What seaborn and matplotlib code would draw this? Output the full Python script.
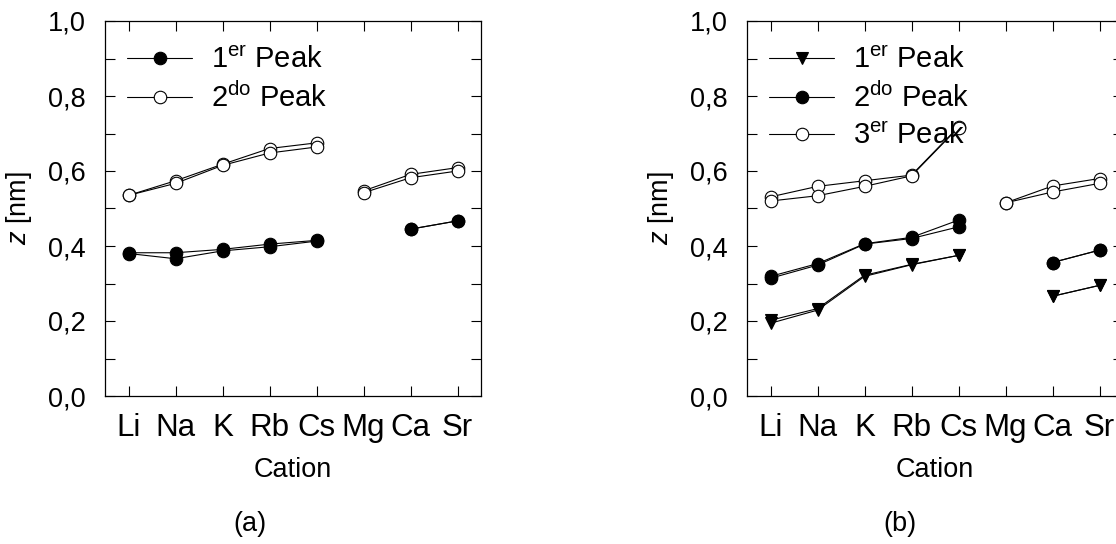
import matplotlib
matplotlib.use("Agg")
import matplotlib.pyplot as plt
import seaborn as sns
import pandas as pd
import numpy as np
from matplotlib.ticker import MultipleLocator

sns.set_style("ticks")
plt.rcParams['font.family'] = ['Liberation Sans', 'DejaVu Sans']
plt.rcParams['mathtext.fontset'] = 'custom'
plt.rcParams['mathtext.rm'] = 'Liberation Sans'
plt.rcParams['mathtext.it'] = 'Liberation Sans:italic'
plt.rcParams['mathtext.bf'] = 'Liberation Sans:bold'
for k in ('text.color', 'axes.labelcolor', 'xtick.color', 'ytick.color', 'axes.edgecolor'):
    plt.rcParams[k] = 'black'

cations = ["Li", "Na", "K", "Rb", "Cs", "Mg", "Ca", "Sr"]
alkali = ["Li", "Na", "K", "Rb", "Cs"]
earth = ["Mg", "Ca", "Sr"]

# Panel (a): two data sets per peak (None = no value)
a_peak1_s1 = [0.382, 0.382, 0.391, 0.405, 0.415, None, 0.445, 0.467]
a_peak1_s2 = [0.380, 0.366, 0.387, 0.398, 0.413, None, 0.445, 0.467]
a_peak2_s1 = [0.535, 0.574, 0.618, 0.660, 0.675, 0.547, 0.591, 0.609]
a_peak2_s2 = [0.535, 0.567, 0.615, 0.648, 0.664, 0.542, 0.582, 0.600]

# Panel (b)
b_peak1_s1 = [0.202, 0.233, 0.322, 0.351, 0.375, None, 0.266, 0.295]
b_peak1_s2 = [0.194, 0.229, 0.319, 0.350, 0.375, None, 0.266, 0.295]
b_peak2_s1 = [0.319, 0.353, 0.406, 0.423, 0.469, None, 0.356, 0.389]
b_peak2_s2 = [0.314, 0.349, 0.405, 0.420, 0.451, None, 0.356, 0.389]
b_peak3_s1 = [0.531, 0.559, 0.574, 0.589, 0.718, 0.515, 0.560, 0.580]
b_peak3_s2 = [0.520, 0.534, 0.559, 0.587, 0.716, 0.515, 0.544, 0.567]

legend_a = ["1$^{\\mathrm{er}}$ Peak", "2$^{\\mathrm{do}}$ Peak"]
legend_b = ["1$^{\\mathrm{er}}$ Peak", "2$^{\\mathrm{do}}$ Peak", "3$^{\\mathrm{er}}$ Peak"]
yticklabels = ["0,0", "0,2", "0,4", "0,6", "0,8", "1,0"]

W, H = 1116, 544
fig = plt.figure(figsize=(W / 100, H / 100), dpi=100)
axw = 376 / W
axh = 375 / H
axb = (H - 396) / H
ax_a = fig.add_axes([105 / W, axb, axw, axh])
ax_b = fig.add_axes([747 / W, axb, axw, axh])

styles = {
    "filled": dict(marker="o", markerfacecolor="black", markeredgecolor="black"),
    "open": dict(marker="o", markerfacecolor="white", markeredgecolor="black"),
    "tri": dict(marker="v", markerfacecolor="black", markeredgecolor="black"),
}


def draw(ax, series_list, label, style):
    first = True
    for vals in series_list:
        for grp in (alkali, earth):
            xs, ys = [], []
            for c in grp:
                v = vals[cations.index(c)]
                if v is not None:
                    xs.append(cations.index(c))
                    ys.append(v)
            if not xs:
                continue
            df = pd.DataFrame({"x": xs, "y": ys})
            sns.lineplot(data=df, x="x", y="y", ax=ax, color="black", lw=0.8,
                         markersize=9, markeredgewidth=0.8, sort=False,
                         label=label if first else None, legend=False,
                         **styles[style])
            first = False


draw(ax_a, [a_peak1_s1, a_peak1_s2], legend_a[0], "filled")
draw(ax_a, [a_peak2_s1, a_peak2_s2], legend_a[1], "open")

draw(ax_b, [b_peak1_s1, b_peak1_s2], legend_b[0], "tri")
draw(ax_b, [b_peak2_s1, b_peak2_s2], legend_b[1], "filled")
draw(ax_b, [b_peak3_s1, b_peak3_s2], legend_b[2], "open")

for ax, tag, tagx in ((ax_a, "(a)", 250), (ax_b, "(b)", 900)):
    ax.set_xlim(-0.5, 7.5)
    ax.set_ylim(0, 1.0)
    ax.set_xticks(range(len(cations)))
    ax.set_xticklabels(cations, fontsize=22.5)
    ax.yaxis.set_minor_locator(MultipleLocator(0.1))
    ax.set_yticks(np.arange(0, 1.01, 0.2))
    ax.set_yticklabels(yticklabels, fontsize=19.5)
    ax.tick_params(axis="both", which="both", direction="in", top=True, right=True,
                   length=7, width=0.8, color="black")
    ax.tick_params(axis="x", pad=12)
    ax.tick_params(axis="y", pad=14)
    for s in ax.spines.values():
        s.set_linewidth(0.9)
        s.set_color("black")
    ax.set_xlabel("Cation", fontsize=19.5, labelpad=10)
    ax.set_ylabel("$\\mathit{z}$ [nm]", fontsize=19.5, labelpad=10)
    fig.text(tagx / W, 1 - 524 / H, tag, fontsize=19.5, ha="center", va="center")
    ax.legend(loc="upper left", bbox_to_anchor=(0.058, 0.933), frameon=False,
              fontsize=21, handlelength=2.25, handletextpad=0.65, labelspacing=0.3,
              borderaxespad=0, borderpad=0)

fig.savefig("out.png", dpi=100)
